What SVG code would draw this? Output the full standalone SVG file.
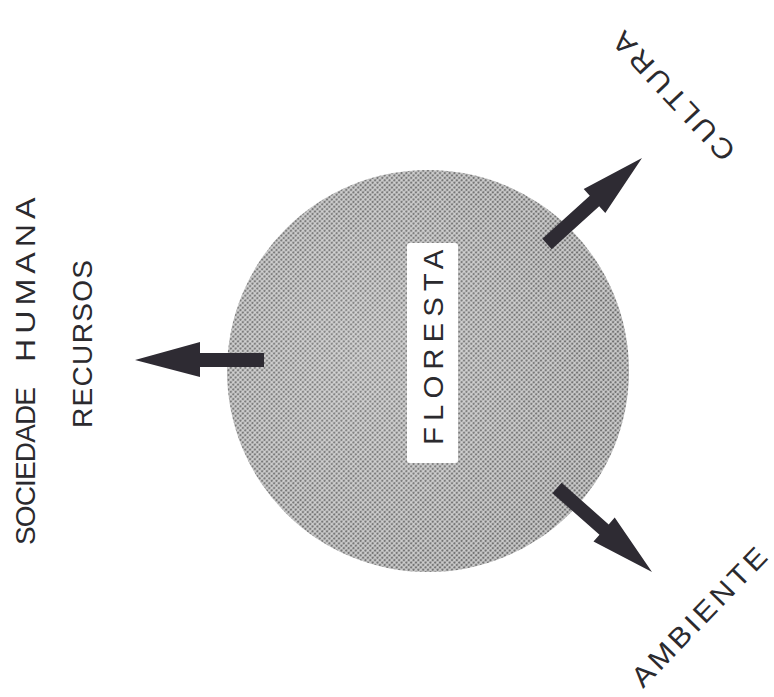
<svg xmlns="http://www.w3.org/2000/svg" width="774" height="697" viewBox="0 0 774 697">
  <style>
    text { font-family: "Liberation Sans", Arial, sans-serif; font-size: 28px; fill: #2b2a2e; }
    .arrow { fill: #2e2b33; }
  </style>
  <defs>
    <pattern id="halftone" width="3.4" height="3.4" patternUnits="userSpaceOnUse" patternTransform="rotate(45)">
      <rect width="3.4" height="3.4" fill="#cdcdcd"/>
      <circle cx="1.7" cy="1.7" r="1.2" fill="#727272"/>
    </pattern>
    <radialGradient id="mottle" cx="0.35" cy="0.45" r="0.6">
      <stop offset="0" stop-color="#ffffff" stop-opacity="0.18"/>
      <stop offset="1" stop-color="#ffffff" stop-opacity="0"/>
    </radialGradient>
  </defs>
  <rect width="774" height="697" fill="#ffffff"/>

  <g id="node-floresta">
    <circle cx="428" cy="371" r="201" fill="url(#halftone)"/>
    <circle cx="428" cy="371" r="201" fill="url(#mottle)"/>
    <rect x="407" y="243" width="51" height="220" rx="3" fill="#ffffff"/>
    <text font-family="Liberation Sans, Arial, sans-serif" font-size="28" transform="translate(443,445) rotate(-90) scale(1.05,1)" x="0" y="0" textLength="186" lengthAdjust="spacing">FLORESTA</text>
  </g>

  <g id="node-sociedade-humana" font-family="Liberation Sans, Arial, sans-serif" font-size="28">
    <text transform="translate(35,545) rotate(-90)" x="0" y="0" textLength="158" lengthAdjust="spacing">SOCIEDADE</text>
    <text transform="translate(35,362) rotate(-90) scale(1.15,1)" x="0" y="0" textLength="143" lengthAdjust="spacing">HUMANA</text>
  </g>

  <g id="node-recursos" font-family="Liberation Sans, Arial, sans-serif" font-size="28">
    <text transform="translate(92,428) rotate(-90)" x="0" y="0" textLength="168" lengthAdjust="spacing">RECURSOS</text>
  </g>

  <g id="node-cultura" font-family="Liberation Sans, Arial, sans-serif" font-size="28">
    <text transform="translate(737,150) rotate(227) scale(1.1,1)" x="0" y="0" textLength="150" lengthAdjust="spacing">CULTURA</text>
  </g>

  <g id="node-ambiente" font-family="Liberation Sans, Arial, sans-serif" font-size="28">
    <text transform="translate(643,689) rotate(-46) scale(1.1,1)" x="0" y="0" textLength="165" lengthAdjust="spacing">AMBIENTE</text>
  </g>

  <g id="connectors">
    <polygon class="arrow" points="264,353 200,353 200,342 135,360 200,377 200,367 264,367"/>
    <polygon class="arrow" points="542.3,238.8 589.8,195.8 583.7,189.1 642,158 605.3,212.9 599.2,206.2 551.7,249.2"/>
    <polygon class="arrow" points="561.6,482.8 608.7,524.4 614.7,517.6 652,572 593.5,541.6 599.5,534.8 552.4,493.2"/>
  </g>
</svg>
